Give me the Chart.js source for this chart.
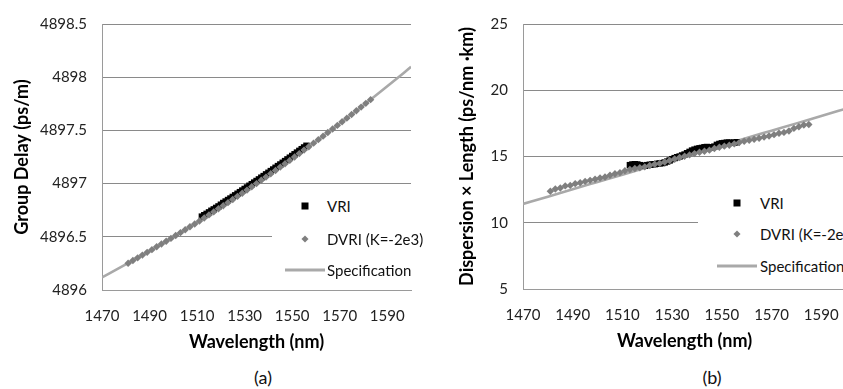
<!DOCTYPE html>
<html><head><meta charset="utf-8">
<script src="https://cdn.jsdelivr.net/npm/chart.js@4/dist/chart.umd.min.js"></script>
<style>
html,body{margin:0;padding:0;background:#fff;overflow:hidden;width:843px;height:389px;}
#wrap{position:relative;width:843px;height:389px;overflow:hidden;background:#fff;}
canvas{position:absolute;top:0;}
#ca{left:0;}
#cb{left:430px;}
.legend{position:absolute;background:#fff;font-family:Lato,"Open Sans",sans-serif;font-size:15px;color:#111;}
.lt{position:absolute;white-space:nowrap;transform:translateY(-50%);}
.sq{position:absolute;width:7px;height:7px;background:#000;transform:translate(-50%,-50%);}
.dm{position:absolute;width:5px;height:5px;background:#7f7f7f;transform:translate(-50%,-50%) rotate(45deg);}
.ln{position:absolute;height:3px;background:#a9a9a9;transform:translateY(-50%);}
.cap{position:absolute;font-family:Lato,"Open Sans",sans-serif;font-size:18px;color:#111;transform:translate(-50%,-50%);white-space:nowrap;}
</style></head><body>
<div id="wrap">
<canvas id="ca" width="422" height="360"></canvas>
<canvas id="cb" width="426" height="360"></canvas>

<div class="legend" style="left:272px;top:188px;width:150px;height:97px;">
  <div class="sq" style="left:33px;top:18px;"></div><div class="lt" style="left:55px;top:18px;">VRI</div>
  <div class="dm" style="left:33px;top:51px;"></div><div class="lt" style="left:55px;top:51px;">DVRI (K=-2e3)</div>
  <div class="ln" style="left:13px;top:82px;width:40px;"></div><div class="lt" style="left:55px;top:82px;">Specification</div>
</div>
<div class="legend" style="left:698px;top:185px;width:150px;height:97px;">
  <div class="sq" style="left:39px;top:18px;"></div><div class="lt" style="left:62px;top:18px;">VRI</div>
  <div class="dm" style="left:39px;top:49px;"></div><div class="lt" style="left:62px;top:49px;">DVRI (K=-2e3)</div>
  <div class="ln" style="left:19px;top:81px;width:40px;"></div><div class="lt" style="left:62px;top:81px;">Specification</div>
</div>
<div class="cap" style="left:263px;top:377px;">(a)</div>
<div class="cap" style="left:712px;top:377px;">(b)</div>
</div>
<script>
// ---------- shared ----------
const wavelengthTicks = [1470, 1490, 1510, 1530, 1550, 1570, 1590];

// ---------- (a) Group delay ----------
const delayTicks = [4896, 4896.5, 4897, 4897.5, 4898, 4898.5];
const delayTickLabels = ["4896", "4896.5", "4897", "4897.5", "4898", "4898.5"];

const specA_wl = [1470, 1480, 1490, 1500, 1510, 1520, 1530, 1540, 1550, 1560, 1570, 1580, 1590, 1600];
const specA_val = [4896.118, 4896.240, 4896.366, 4896.498, 4896.635, 4896.777, 4896.924, 4897.077, 4897.234, 4897.396, 4897.564, 4897.736, 4897.914, 4898.097];

const vriA_wl = [1512,1513,1514,1515,1516,1517,1518,1519,1520,1521,1522,1523,1524,1525,1526,1527,1528,1529,1530,1531,1532,1533,1534,1535,1536,1537,1538,1539,1540,1541,1542,1543,1544,1545,1546,1547,1548,1549,1550,1551,1552,1553,1554,1555,1556];
const vriA_val = [4896.690,4896.703,4896.716,4896.730,4896.745,4896.758,4896.772,4896.786,4896.802,4896.818,4896.832,4896.846,4896.860,4896.875,4896.890,4896.905,4896.920,4896.935,4896.950,4896.964,4896.980,4896.995,4897.010,4897.025,4897.040,4897.056,4897.071,4897.087,4897.102,4897.118,4897.133,4897.149,4897.165,4897.180,4897.196,4897.212,4897.228,4897.244,4897.260,4897.276,4897.292,4897.308,4897.324,4897.340,4897.356];

const dvriA_wl = [1481,1483,1485,1487,1489,1491,1493,1495,1497,1499,1501,1503,1505,1507,1509,1511,1513,1515,1517,1519,1521,1523,1525,1527,1529,1531,1533,1535,1537,1539,1541,1543,1545,1547,1549,1551,1553,1555,1557,1559,1561,1563,1565,1567,1569,1571,1573,1575,1577,1579,1581,1583];
const dvriA_val = [4896.252,4896.277,4896.302,4896.328,4896.354,4896.379,4896.406,4896.432,4896.458,4896.485,4896.512,4896.539,4896.566,4896.594,4896.621,4896.649,4896.677,4896.706,4896.734,4896.763,4896.792,4896.821,4896.850,4896.880,4896.910,4896.939,4896.970,4897.000,4897.031,4897.061,4897.092,4897.123,4897.155,4897.186,4897.218,4897.250,4897.282,4897.315,4897.347,4897.380,4897.413,4897.446,4897.480,4897.513,4897.547,4897.581,4897.615,4897.650,4897.684,4897.719,4897.754,4897.789];

// ---------- (b) Dispersion x Length ----------
const dispTicks = [5, 10, 15, 20, 25];
const dispTickLabels = ["5", "10", "15", "20", "25"];

const specB_wl = [1470, 1480, 1490, 1500, 1510, 1520, 1530, 1540, 1550, 1560, 1570, 1580, 1590, 1600];
const specB_val = [11.42, 11.97, 12.53, 13.08, 13.63, 14.19, 14.74, 15.29, 15.84, 16.40, 16.95, 17.50, 18.06, 18.61];

const vriB_wl = [1513,1514,1515,1516,1517,1518,1519,1520,1521,1522,1523,1524,1525,1526,1527,1528,1529,1530,1531,1532,1533,1534,1535,1536,1537,1538,1539,1540,1541,1542,1543,1544,1545,1546,1547,1548,1549,1550,1551,1552,1553,1554,1555,1556];
const vriB_val = [14.35,14.40,14.42,14.40,14.35,14.30,14.30,14.35,14.38,14.40,14.42,14.45,14.48,14.50,14.55,14.62,14.70,14.80,14.88,14.95,15.00,15.08,15.15,15.25,15.35,15.45,15.52,15.58,15.62,15.65,15.70,15.72,15.70,15.68,15.75,15.88,15.95,16.00,16.02,16.05,16.05,16.03,16.05,16.08];

const dvriB_wl = [1481,1483,1485,1487,1489,1491,1493,1495,1497,1499,1501,1503,1505,1507,1509,1511,1513,1515,1517,1519,1521,1523,1525,1527,1529,1531,1533,1535,1537,1539,1541,1543,1545,1547,1549,1551,1553,1555,1557,1559,1561,1563,1565,1567,1569,1571,1573,1575,1577,1579,1581,1583,1585];
const dvriB_val = [12.38,12.55,12.62,12.78,12.82,12.95,13.02,13.12,13.20,13.28,13.38,13.45,13.58,13.70,13.78,13.92,14.02,14.10,14.15,14.22,14.32,14.42,14.48,14.58,14.70,14.82,14.92,15.02,15.12,15.22,15.32,15.40,15.48,15.60,15.70,15.78,15.85,15.95,16.05,16.15,16.22,16.30,16.38,16.47,16.55,16.65,16.75,16.82,16.92,17.12,17.25,17.38,17.42];

// ---------- drawing ----------
const FONT = 'Lato, "Open Sans", sans-serif';
const pts = (xs, ys) => xs.map((x, i) => ({ x: x, y: ys[i] }));

function makeChart(id, o) {
  return new Chart(document.getElementById(id), {
    type: 'scatter',
    data: {
      datasets: [
        { label: 'DVRI (K=-2e3)', data: pts(o.dvriX, o.dvriY), pointStyle: 'rectRot', pointRadius: 3.7,
          backgroundColor: '#7f7f7f', borderWidth: 0, order: 1 },
        { label: 'VRI', data: pts(o.vriX, o.vriY), pointStyle: 'rect', pointRadius: 4.5,
          backgroundColor: '#000', borderWidth: 0, order: 2 },
        { label: 'Specification', data: pts(o.specX, o.specY), showLine: true, pointRadius: 0,
          borderColor: '#a9a9a9', borderWidth: 2.6, cubicInterpolationMode: 'monotone', order: 3 }
      ]
    },
    options: {
      responsive: false,
      animation: false,
      events: [],
      layout: { padding: o.padding },
      plugins: { legend: { display: false }, tooltip: { enabled: false } },
      scales: {
        x: {
          type: 'linear', min: 1470, max: 1600, bounds: 'data',
          afterBuildTicks: a => { a.ticks = wavelengthTicks.map(v => ({ value: v })); },
          afterFit: s => { s.height = o.xHeight; },
          ticks: { autoSkip: false, maxRotation: 0, padding: 17, color: '#222',
                   font: { family: FONT, size: 15 }, callback: v => String(v) },
          grid: { display: false, drawTicks: false },
          border: { display: true, color: '#9a9a9a', width: 1 },
          title: { display: true, text: 'Wavelength (nm)', color: '#000',
                   font: { family: FONT, size: 18, weight: 'bold' }, padding: { top: 0, bottom: o.xTitlePad } }
        },
        y: {
          type: 'linear', min: o.yMin, max: o.yMax, bounds: 'data',
          afterBuildTicks: a => { a.ticks = o.yTicks.map(v => ({ value: v })); },
          afterFit: s => { s.width = o.yWidth; },
          ticks: { autoSkip: false, padding: 15, color: '#222', font: { family: FONT, size: 15 },
                   callback: (v) => o.yLabels[o.yTicks.indexOf(v)] },
          grid: { color: '#8a8a8a', lineWidth: 1, drawTicks: false },
          border: { display: true, color: '#9a9a9a', width: 1 },
          title: { display: true, text: o.yTitle, color: '#000',
                   font: { family: FONT, size: 18, weight: 'bold' }, padding: { top: 4, bottom: 4 } }
        }
      }
    }
  });
}

makeChart('ca', {
  dvriX: dvriA_wl, dvriY: dvriA_val, vriX: vriA_wl, vriY: vriA_val, specX: specA_wl, specY: specA_val,
  padding: { left: 7, top: 15, right: 1, bottom: 0 }, xHeight: 70, xTitlePad: 7, yWidth: 95,
  yMin: 4896, yMax: 4898.5, yTicks: delayTicks, yLabels: delayTickLabels, yTitle: 'Group Delay (ps/m)'
});
makeChart('cb', {
  dvriX: dvriB_wl, dvriY: dvriB_val, vriX: vriB_wl, vriY: vriB_val, specX: specB_wl, specY: specB_val,
  padding: { left: 22, top: 20, right: 2, bottom: 0 }, xHeight: 71, xTitlePad: 8, yWidth: 71,
  yMin: 5, yMax: 25, yTicks: dispTicks, yLabels: dispTickLabels, yTitle: 'Dispersion \u00d7 Length (ps/nm \u00b7km)'
});
</script>
</body></html>
